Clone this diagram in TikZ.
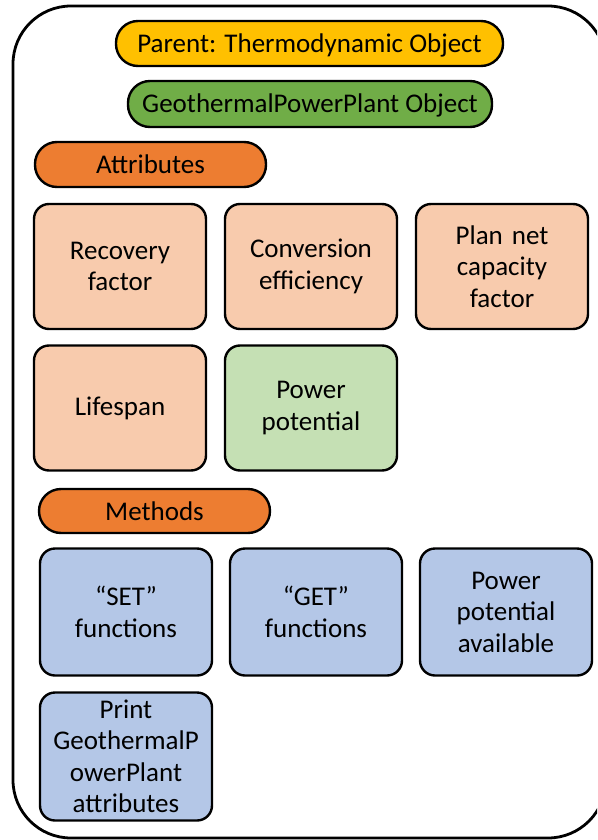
\documentclass[tikz,border=0pt]{standalone}
\usepackage{fontspec}
\setmainfont{Carlito}
\begin{document}
\begin{tikzpicture}[x=1pt,y=-1pt,
  txt/.style={font=\fontsize{27}{31.5}\selectfont, align=center, text=black},
  pill/.style={txt, draw=black, line width=2.4pt, rounded corners=22pt,
               text height=23pt, text depth=5pt},
  card/.style={txt, draw=black, line width=2.4pt, rounded corners=15pt,
               minimum width=172pt, minimum height=125pt, text width=168pt, inner sep=0pt},
  attr/.style={card, fill=attrfill},
  meth/.style={card, fill=methfill}
]
\definecolor{parentfill}{HTML}{FFC000}
\definecolor{objfill}{HTML}{70AD47}
\definecolor{headfill}{HTML}{ED7D31}
\definecolor{attrfill}{HTML}{F8CBAD}
\definecolor{potfill}{HTML}{C5E0B4}
\definecolor{methfill}{HTML}{B4C7E7}

\useasboundingbox (0,0) rectangle (597,840);
\begin{scope}
\clip (0,0) rectangle (597,840);
% outer class frame
\draw[line width=2.8pt, rounded corners=58pt] (13,6) rectangle (606,838);
\end{scope}

% header pills
\node[pill, fill=parentfill, minimum width=387pt, minimum height=45pt] (parent) at (309.5,43.5) {Parent: Thermodynamic Object};
\node[pill, fill=objfill, minimum width=364pt, minimum height=46pt] (obj) at (310,104) {GeothermalPowerPlant Object};
\node[pill, fill=headfill, minimum width=231pt, minimum height=45pt] (attrs) at (150.5,164.5) {Attributes};
\node[pill, fill=headfill, minimum width=231pt, minimum height=44pt] (meths) at (154.5,511) {Methods};

% attribute cards
\node[attr] (recovery) at (120,266.5) {Recovery\\factor};
\node[attr] (conversion) at (311,266.5) {Conversion\\efficiency};
\node[attr] (capacity) at (502,266.5) {Plan net\\capacity\\factor};
\node[attr] (lifespan) at (120,408) {Lifespan};
\node[card, fill=potfill] (potential) at (311,408) {Power\\potential};

% method cards
\node[meth, minimum height=127pt] (setfn) at (126,612) {“SET”\\functions};
\node[meth, minimum height=127pt] (getfn) at (316,612) {“GET”\\functions};
\node[meth, minimum height=127pt] (avail) at (506,612) {Power\\potential\\available};
\node[meth, minimum height=128pt] (printfn) at (126,756.5) {Print\\GeothermalP\\owerPlant\\attributes};
\end{tikzpicture}
\end{document}
